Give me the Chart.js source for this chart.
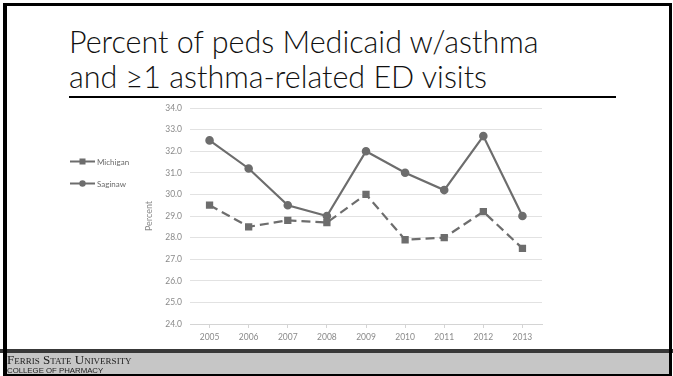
<!DOCTYPE html>
<html>
<head>
<meta charset="utf-8">
<script src="https://cdn.jsdelivr.net/npm/chart.js@4/dist/chart.umd.min.js"></script>
<style>
  html, body { margin: 0; padding: 0; background: #fff; }
  #slide { position: relative; width: 673px; height: 376px; overflow: hidden; background: #fff; }
  #frame { position: absolute; left: 3px; top: 3px; width: 662px; height: 368px;
           border-left: 4px solid #000; border-top: 3px solid #000; border-right: 3px solid #000; border-bottom: 2px solid #000;
           box-sizing: content-box; }
  #title { position: absolute; left: 69px; top: 24px; font-family: Lato, sans-serif; font-weight: 300;
           font-size: 30.5px; line-height: 35px; color: #111; white-space: nowrap; }
  #rule { position: absolute; left: 69px; top: 96px; width: 547px; height: 2px; background: #000; }
  #band { position: absolute; left: 0; top: 349px; width: 673px; height: 4px; background: #383838; }
  #footer { position: absolute; left: 7px; top: 353px; width: 662px; height: 21px; background: #c6c6c6; }
  #fsu { position: absolute; left: 7px; top: 352px; font-family: "Liberation Serif", serif; font-size: 13px;
         font-variant: small-caps; color: #222; white-space: nowrap; }
  #cop { position: absolute; left: 7px; top: 366px; font-family: "Liberation Sans", sans-serif; font-size: 7.8px;
         color: #222; white-space: nowrap; }
  #chart { position: absolute; left: 0; top: 0; }
</style>
</head>
<body>
<div id="slide">
  <div id="title">Percent of peds Medicaid w/asthma<br>and ≥1 asthma-related ED visits</div>
  <div id="rule"></div>
  <canvas id="chart" width="673" height="376"></canvas>
  <div id="band"></div>
  <div id="footer"></div>
  <div id="fsu">Ferris State University</div>
  <div id="cop">COLLEGE OF PHARMACY</div>
  <div id="frame"></div>
</div>
<script>
// Share of pediatric Medicaid patients with asthma having at least one asthma-related ED visit
const years = ['2005', '2006', '2007', '2008', '2009', '2010', '2011', '2012', '2013'];
const michigan = [29.5, 28.5, 28.8, 28.7, 30.0, 27.9, 28.0, 29.2, 27.5];
const saginaw = [32.5, 31.2, 29.5, 29.0, 32.0, 31.0, 30.2, 32.7, 29.0];
const yTicks = [24, 25, 26, 27, 28, 29, 30, 31, 32, 33, 34];

const lineGray = '#6d6d6d';
const tickFont = { family: 'Lato, sans-serif', size: 8.5 };

// Legend drawn at the left of the plot, using each dataset's own style
const sideLegend = {
  id: 'sideLegend',
  afterDraw(chart) {
    const ctx = chart.ctx;
    const rows = [161.5, 183.5];
    chart.data.datasets.forEach((ds, i) => {
      const y = rows[i];
      ctx.save();
      ctx.strokeStyle = ds.borderColor;
      ctx.lineWidth = 2;
      ctx.beginPath();
      ctx.moveTo(70, y);
      ctx.lineTo(95, y);
      ctx.stroke();
      ctx.fillStyle = ds.pointBackgroundColor;
      if (ds.pointStyle === 'rect') {
        ctx.fillRect(79.5, y - 3, 6, 6);
      } else {
        ctx.beginPath();
        ctx.arc(82.5, y, 3.2, 0, Math.PI * 2);
        ctx.fill();
      }
      ctx.fillStyle = '#6a6a6a';
      ctx.font = '8px Lato, sans-serif';
      ctx.textBaseline = 'middle';
      ctx.fillText(ds.label, 97, y + 0.5);
      ctx.restore();
    });
  }
};

new Chart(document.getElementById('chart'), {
  type: 'line',
  data: {
    labels: years,
    datasets: [
      {
        label: 'Michigan',
        data: michigan,
        borderColor: lineGray,
        backgroundColor: lineGray,
        pointBackgroundColor: lineGray,
        pointBorderColor: lineGray,
        borderWidth: 2.2,
        borderDash: [9, 5],
        pointStyle: 'rect',
        pointRadius: 3.6,
        tension: 0
      },
      {
        label: 'Saginaw',
        data: saginaw,
        borderColor: lineGray,
        backgroundColor: lineGray,
        pointBackgroundColor: lineGray,
        pointBorderColor: lineGray,
        borderWidth: 2.2,
        pointStyle: 'circle',
        pointRadius: 3.2,
        tension: 0
      }
    ]
  },
  options: {
    responsive: false,
    animation: false,
    layout: { padding: { left: 140, right: 131, top: 108, bottom: 20 } },
    plugins: { legend: { display: false }, tooltip: { enabled: false } },
    scales: {
      x: {
        offset: true,
        grid: { display: true, drawOnChartArea: false, drawTicks: true, tickLength: 4, color: '#d4d4d4', offset: false },
        border: { display: true, color: '#d4d4d4', width: 1 },
        ticks: { color: '#8a8a8a', font: tickFont, padding: 4, maxRotation: 0 },
        afterFit(scale) { scale.height = 32; }
      },
      y: {
        min: 24,
        max: 34,
        afterBuildTicks(scale) { scale.ticks = yTicks.map(v => ({ value: v })); },
        grid: { color: '#e2e2e2', lineWidth: 1, drawTicks: false },
        border: { display: false },
        ticks: { color: '#8a8a8a', font: tickFont, padding: 8, callback: v => Number(v).toFixed(1) },
        title: { display: true, text: 'Percent', color: '#8a8a8a', font: { family: 'Lato, sans-serif', size: 9 }, padding: { top: 4, bottom: 4 } },
        afterFit(scale) { scale.width = 50; }
      }
    }
  },
  plugins: [sideLegend]
});
</script>
</body>
</html>
